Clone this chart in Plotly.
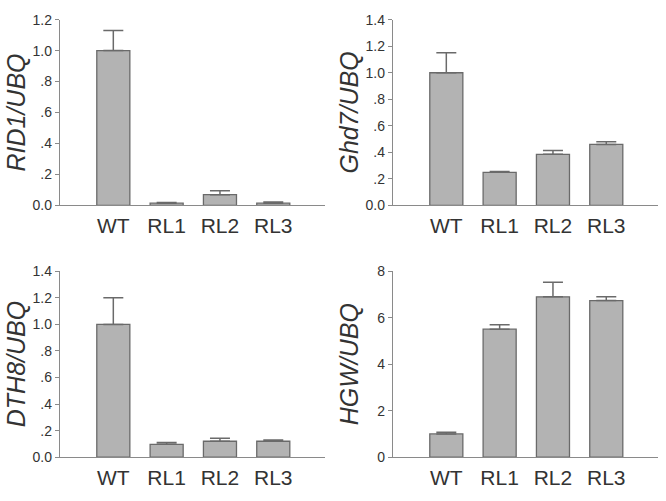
import plotly.graph_objects as go

categories = ["WT", "RL1", "RL2", "RL3"]

rid1_vals = [1.0, 0.015, 0.07, 0.015]
rid1_err = [0.13, 0.004, 0.025, 0.008]

ghd7_vals = [1.0, 0.25, 0.385, 0.46]
ghd7_err = [0.15, 0.006, 0.03, 0.02]

dth8_vals = [1.0, 0.097, 0.12, 0.12]
dth8_err = [0.2, 0.013, 0.022, 0.01]

hgw_vals = [1.0, 5.51, 6.9, 6.74]
hgw_err = [0.07, 0.19, 0.63, 0.16]

panels = [
    dict(vals=rid1_vals, err=rid1_err, title="RID1/UBQ", rng=[0, 1.2],
         tickvals=[0, 0.2, 0.4, 0.6, 0.8, 1.0, 1.2],
         ticktext=["0.0", ".2", ".4", ".6", ".8", "1.0", "1.2"]),
    dict(vals=ghd7_vals, err=ghd7_err, title="Ghd7/UBQ", rng=[0, 1.4],
         tickvals=[0, 0.2, 0.4, 0.6, 0.8, 1.0, 1.2, 1.4],
         ticktext=["0.0", ".2", ".4", ".6", ".8", "1.0", "1.2", "1.4"]),
    dict(vals=dth8_vals, err=dth8_err, title="DTH8/UBQ", rng=[0, 1.4],
         tickvals=[0, 0.2, 0.4, 0.6, 0.8, 1.0, 1.2, 1.4],
         ticktext=["0.0", ".2", ".4", ".6", ".8", "1.0", "1.2", "1.4"]),
    dict(vals=hgw_vals, err=hgw_err, title="HGW/UBQ", rng=[0, 8],
         tickvals=[0, 2, 4, 6, 8],
         ticktext=["0", "2", "4", "6", "8"]),
]

W, H = 666, 501
# pixel boxes of plot areas: (x0, x1, ytop, ybottom)
boxes = [(60, 325, 12, 204), (393, 658, 12, 204),
         (60, 325, 272, 464), (393, 658, 272, 464)]

FONT = "Liberation Sans, Arial, sans-serif"
TXT = "#333333"
AX = "#8a8a8a"
BAR = "#b3b3b3"
EDGE = "#6a6a6a"

fig = go.Figure()
layout = dict(width=W, height=H, margin=dict(l=0, r=0, t=0, b=0),
              paper_bgcolor="white", plot_bgcolor="white", showlegend=False)
annotations = []
xpos = list(range(len(categories)))
for i, p in enumerate(panels):
    n = "" if i == 0 else str(i + 1)
    x0, x1, yt, yb = boxes[i]
    fig.add_trace(go.Bar(
        x=xpos, y=p["vals"], xaxis="x" + n, yaxis="y" + n,
        width=0.62,
        marker=dict(color=BAR, line=dict(color=EDGE, width=1.3)),
        error_y=dict(type="data", array=p["err"], arrayminus=[0] * 4,
                     symmetric=False, color=EDGE, thickness=1.5, width=10),
    ))
    layout["xaxis" + n] = dict(
        domain=[x0 / W, x1 / W], anchor="y" + n, range=[-1.0, 3.97],
        tickvals=xpos, ticktext=categories, showgrid=False, zeroline=False,
        showline=True, linecolor=AX, linewidth=1.3, ticks="",
        ticklabelstandoff=1,
        tickfont=dict(family=FONT, size=21, color=TXT), fixedrange=True)
    layout["yaxis" + n] = dict(
        domain=[1 - yb / H, 1 - yt / H], anchor="x" + n, range=p["rng"],
        tickvals=p["tickvals"], ticktext=p["ticktext"], showgrid=False,
        zeroline=False, showline=True, linecolor=AX, linewidth=1.3,
        ticks="outside", ticklen=4, tickcolor=AX, tickwidth=1.3,
        tickfont=dict(family=FONT, size=14, color=TXT), fixedrange=True)
    annotations.append(dict(
        text="<i>" + p["title"] + "</i>", textangle=-90,
        x=(x0 - 44) / W, y=1 - (yt + yb) / 2 / H, xref="paper", yref="paper",
        xanchor="center", yanchor="middle", showarrow=False,
        font=dict(family=FONT, size=25, color=TXT)))
layout["annotations"] = annotations
fig.update_layout(**layout)
fig.write_html("out.html", config={"displayModeBar": False},
               post_script="document.body.style.margin='0';"
                           "document.body.style.overflow='hidden';")
